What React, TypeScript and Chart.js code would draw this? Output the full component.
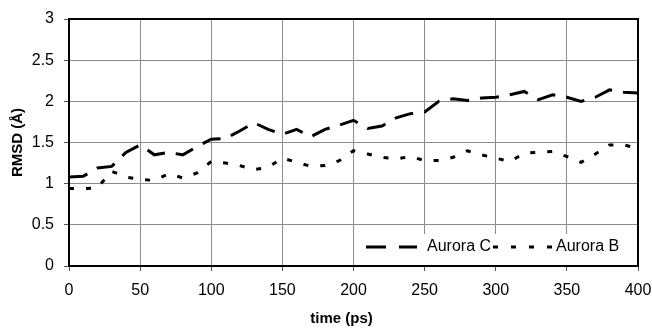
import React, { useEffect, useRef } from "react";
import { Chart, registerables } from "chart.js";

Chart.register(...registerables);

const times = [0,10,20,30,40,50,60,70,80,90,100,110,120,130,140,150,160,170,180,190,200,210,220,230,240,250,260,270,280,290,300,310,320,330,340,350,360,370,380,390,400];
const auroraC = [1.08,1.09,1.19,1.21,1.38,1.47,1.35,1.38,1.35,1.45,1.54,1.55,1.64,1.74,1.66,1.6,1.66,1.57,1.66,1.71,1.77,1.67,1.7,1.8,1.85,1.87,2.0,2.03,2.01,2.04,2.05,2.08,2.12,2.02,2.08,2.05,2.0,2.05,2.14,2.11,2.1];
const auroraB = [0.94,0.94,0.95,1.15,1.08,1.05,1.04,1.12,1.07,1.13,1.27,1.25,1.22,1.17,1.2,1.31,1.26,1.21,1.22,1.28,1.4,1.36,1.32,1.3,1.33,1.28,1.28,1.32,1.4,1.35,1.31,1.27,1.37,1.38,1.39,1.33,1.26,1.36,1.47,1.47,1.43];
const seriesNames = ["Aurora C", "Aurora B"];
const xTitle = "time (ps)";
const yTitle = "RMSD (Å)";

const FONT = "'Liberation Sans', Arial, sans-serif";

const frameAndLegend = {
  id: "frameAndLegend",
  afterDatasetsDraw(chart: any) {
    const { ctx, chartArea } = chart;
    const { left, right, top, bottom } = chartArea;
    ctx.save();
    // legend box
    const bx = right - 282, by = bottom - 32, bw = 282, bh = 32;
    ctx.fillStyle = "#ffffff";
    ctx.fillRect(bx, by, bw, bh);
    const cy = by + 13;
    ctx.lineWidth = 3;
    ctx.strokeStyle = "#000";
    ctx.lineCap = "butt";
    ctx.setLineDash([20, 13]);
    ctx.beginPath();
    ctx.moveTo(bx + 10, cy);
    ctx.lineTo(bx + 61, cy);
    ctx.stroke();
    ctx.setLineDash([5, 13]);
    ctx.beginPath();
    ctx.moveTo(bx + 137, cy);
    ctx.lineTo(bx + 200, cy);
    ctx.stroke();
    ctx.setLineDash([]);
    ctx.fillStyle = "#000";
    ctx.font = `16px ${FONT}`;
    ctx.textBaseline = "middle";
    ctx.textAlign = "left";
    ctx.fillText(seriesNames[0], bx + 71, cy);
    ctx.fillText(seriesNames[1], bx + 200, cy);
    // frame
    ctx.lineWidth = 2;
    ctx.strokeStyle = "#000";
    ctx.strokeRect(left, top, right - left, bottom - top);
    // x axis title
    ctx.font = `bold 15px ${FONT}`;
    ctx.textAlign = "center";
    ctx.textBaseline = "middle";
    ctx.fillText(xTitle, (left + right) / 2 - 12, chart.height - 12);
    ctx.restore();
  },
};

export default function App() {
  const ref = useRef<HTMLCanvasElement>(null);
  useEffect(() => {
    document.body.style.margin = "0";
    const chart = new Chart(ref.current!, {
      type: "line",
      data: {
        datasets: [
          {
            label: seriesNames[0],
            data: times.map((t, i) => ({ x: t, y: auroraC[i] })),
            borderColor: "#000",
            borderWidth: 3,
            borderDash: [19, 11],
            pointRadius: 0,
            fill: false,
            tension: 0,
          },
          {
            label: seriesNames[1],
            data: times.map((t, i) => ({ x: t, y: auroraB[i] })),
            borderColor: "#000",
            borderWidth: 3,
            borderDash: [5, 12],
            pointRadius: 0,
            fill: false,
            tension: 0,
          },
        ],
      },
      options: {
        responsive: false,
        animation: false,
        layout: { padding: { top: 19, right: 14, bottom: 0, left: 0 } },
        plugins: { legend: { display: false }, tooltip: { enabled: false } },
        scales: {
          x: {
            type: "linear",
            min: 0,
            max: 400,
            ticks: { stepSize: 50, color: "#000", font: { family: FONT, size: 16 }, padding: 10, maxRotation: 0 },
            grid: { color: "#8c8c8c", lineWidth: 1, tickLength: 5, tickColor: "#555" },
            border: { display: false },
            title: { display: false },
            afterFit: (s: any) => { s.height = 65; s.paddingLeft = 0; s.paddingRight = 0; },
          },
          y: {
            min: 0,
            max: 3,
            ticks: {
              stepSize: 0.5,
              color: "#000",
              font: { family: FONT, size: 16 },
              padding: 10,
              callback: (v: any) => String(Number(v)),
            },
            grid: { color: "#8c8c8c", lineWidth: 1, tickLength: 5, tickColor: "#555" },
            border: { display: false },
            title: { display: true, text: yTitle, color: "#000", font: { family: FONT, size: 15, weight: "bold" }, padding: { top: 9, bottom: 0 } },
            afterFit: (s: any) => { s.width = 69; s.paddingTop = 0; s.paddingBottom = 0; },
          },
        },
      },
      plugins: [frameAndLegend],
    });
    return () => chart.destroy();
  }, []);
  return (
    <div style={{ width: 652, height: 331, position: "relative" }}>
      <canvas ref={ref} width={652} height={331} />
    </div>
  );
}
